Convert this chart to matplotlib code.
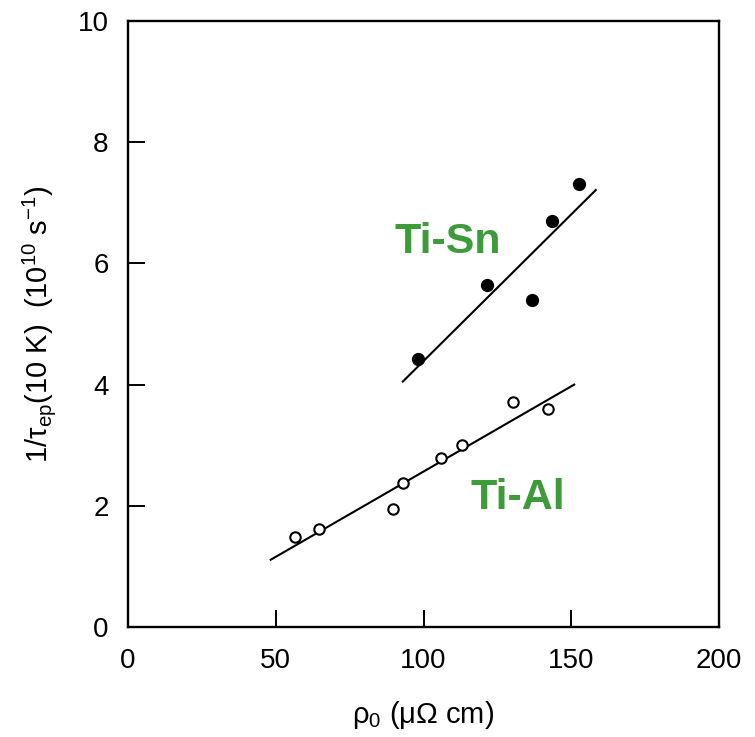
import matplotlib
matplotlib.use("Agg")
import matplotlib.pyplot as plt

plt.rcParams['font.family'] = ['Liberation Sans', 'DejaVu Sans']
plt.rcParams['mathtext.fontset'] = 'custom'
plt.rcParams['mathtext.rm'] = 'Liberation Sans'
plt.rcParams['mathtext.it'] = 'Liberation Sans:italic'

# Ti-Sn (filled circles)
sn_rho = [98.2, 121.6, 136.6, 143.6, 152.7]
sn_rate = [4.42, 5.65, 5.39, 6.70, 7.31]
sn_fit_rho = [93.0, 158.3]
sn_fit_rate = [4.05, 7.21]

# Ti-Al (open circles)
al_rho = [56.4, 64.6, 89.6, 93.0, 105.9, 113.1, 130.2, 142.2]
al_rate = [1.49, 1.61, 1.94, 2.37, 2.79, 3.01, 3.71, 3.59]
al_fit_rho = [48.3, 151.0]
al_fit_rate = [1.11, 4.00]

x_ticks = [0, 50, 100, 150, 200]
y_ticks = [0, 2, 4, 6, 8, 10]

fig = plt.figure(figsize=(7.55, 7.37), dpi=100)
ax = fig.add_axes([128 / 755, 1 - 627 / 737, 591 / 755, 606 / 737])

ax.plot(sn_fit_rho, sn_fit_rate, color='black', lw=1.5)
ax.plot(al_fit_rho, al_fit_rate, color='black', lw=1.5)
ax.plot(sn_rho, sn_rate, 'o', color='black', ms=8.5)
ax.plot(al_rho, al_rate, 'o', mfc='white', mec='black', mew=1.5, ms=7.5)

green = '#3d9b3a'
ax.text(108.3, 6.35, 'Ti-Sn', color=green, fontsize=31, fontweight='bold',
        ha='center', va='center')
ax.text(132.0, 2.13, 'Ti-Al', color=green, fontsize=31, fontweight='bold',
        ha='center', va='center')

ax.set_xlim(0, 200)
ax.set_ylim(0, 10)
ax.set_xticks(x_ticks)
ax.set_yticks(y_ticks)
ax.tick_params(direction='in', length=12, width=1.4, labelsize=20, pad=15,
               top=False, right=False)
ax.tick_params(axis='y', pad=14)
for s in ax.spines.values():
    s.set_linewidth(1.7)

ax.set_xlabel(r'ρ$_0$ (μΩ cm)', fontsize=21, labelpad=18)
ax.set_ylabel(r'1/τ$_{\rm ep}$(10 K)  (10$^{10}$ s$^{-1}$)', fontsize=21,
              labelpad=14)

fig.savefig('out.png', dpi=100)
